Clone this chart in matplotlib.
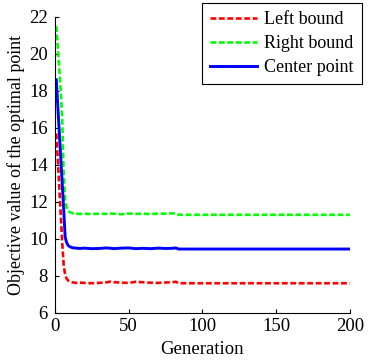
import matplotlib
matplotlib.use("Agg")
import matplotlib.pyplot as plt

plt.rcParams['font.family'] = ['Liberation Serif', 'DejaVu Serif']
plt.rcParams['mathtext.fontset'] = 'stix'

generations = [1, 2, 3, 4, 5, 6, 7, 8, 9, 10, 12, 14, 17, 20, 25, 30, 35, 38, 40, 45,
               50, 55, 60, 65, 70, 75, 80, 82, 84, 200]
left_bound = [15.7, 14.3, 12.8, 11.3, 9.8, 8.6, 8.05, 7.85, 7.75, 7.7, 7.65, 7.62, 7.63, 7.62, 7.6, 7.62, 7.65, 7.69, 7.66, 7.63,
              7.62, 7.68, 7.65, 7.63, 7.62, 7.64, 7.66, 7.68, 7.6, 7.6]
right_bound = [21.5, 20.4, 19.2, 18.0, 16.5, 13.5, 12.1, 11.7, 11.55, 11.45, 11.38, 11.36, 11.35, 11.36, 11.34, 11.36, 11.35, 11.37, 11.36, 11.33,
               11.37, 11.35, 11.36, 11.34, 11.37, 11.36, 11.38, 11.37, 11.3, 11.3]
center_point = [18.6, 17.2, 15.8, 14.4, 13.0, 11.6, 10.1, 9.8, 9.65, 9.58, 9.52, 9.5, 9.48, 9.5, 9.47, 9.48, 9.51, 9.49, 9.47, 9.5,
                9.51, 9.47, 9.49, 9.47, 9.5, 9.48, 9.49, 9.51, 9.45, 9.45]

series_labels = ["Left bound", "Right bound", "Center point"]
x_ticks = [0, 50, 100, 150, 200]
y_ticks = [6, 8, 10, 12, 14, 16, 18, 20, 22]

fig = plt.figure(figsize=(3.73, 3.6), dpi=100)
ax = fig.add_axes([0.147, 0.131, 0.791, 0.822])

ax.plot(generations, left_bound, color=(1, 0, 0), lw=1.9, dashes=(2.2, 1.0), label=series_labels[0])
ax.plot(generations, right_bound, color=(0, 1, 0), lw=1.9, dashes=(2.2, 1.0), label=series_labels[1])
ax.plot(generations, center_point, color=(0, 0, 1), lw=2.1, label=series_labels[2])

ax.set_xlim(0, 200)
ax.set_ylim(6, 22)
ax.set_xticks(x_ticks)
ax.set_yticks(y_ticks)
ax.tick_params(direction='in', labelsize=13.5, length=3, width=0.8)
ax.tick_params(axis='y', pad=5)
ax.tick_params(axis='x', pad=4)
ax.spines['top'].set_visible(False)
ax.spines['right'].set_visible(False)
ax.set_xlabel("Generation", fontsize=13.5, labelpad=4)
ax.set_ylabel("Objective value of the optimal point", fontsize=13, labelpad=3)

leg = fig.legend(loc='upper right', bbox_to_anchor=(362/373, 1 - 3/360), fontsize=13,
                 fancybox=False, edgecolor='black', framealpha=1, handlelength=2.6,
                 borderpad=0.45, labelspacing=0.38, handletextpad=0.4, borderaxespad=0)
leg.get_frame().set_linewidth(0.8)

fig.savefig("out.png", dpi=100)
